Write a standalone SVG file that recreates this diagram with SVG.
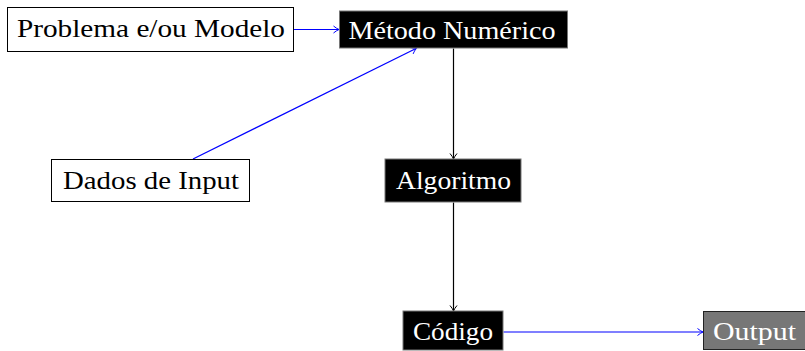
<svg xmlns="http://www.w3.org/2000/svg" width="805" height="351" viewBox="0 0 805 351">
<style>
.t{font-family:"Liberation Serif","DejaVu Serif",serif;font-size:26px;text-anchor:middle}
.wb{fill:#fff;stroke:#000;stroke-width:1}
.bb{fill:#000;stroke:#777;stroke-width:1}
.gb{fill:#777;stroke:#222;stroke-width:1}
.dk{fill:#000}
.lt{fill:#fff}
.c{fill:none;stroke-width:1.2}
.blue{stroke:#0000ff}
.black{stroke:#000}
</style>
<defs>
<marker id="ab" markerWidth="10" markerHeight="10" refX="7" refY="5" orient="auto" markerUnits="userSpaceOnUse">
<path d="M2,1.5 Q5,4 7.5,5 Q5,6 2,8.5" fill="none" stroke="#0000ff" stroke-width="1"/>
</marker>
<marker id="ak" markerWidth="10" markerHeight="10" refX="7" refY="5" orient="auto" markerUnits="userSpaceOnUse">
<path d="M2,1.5 Q5,4 7.5,5 Q5,6 2,8.5" fill="none" stroke="#000" stroke-width="1"/>
</marker>
</defs>
<g id="connectors">
<line class="c blue" x1="293.5" y1="29.5" x2="338.5" y2="29.5" marker-end="url(#ab)"/>
<line class="c blue" x1="193" y1="159" x2="416" y2="48.5" marker-end="url(#ab)"/>
<line class="c black" x1="453.5" y1="48.5" x2="453.5" y2="158.5" marker-end="url(#ak)"/>
<line class="c black" x1="453.5" y1="202.5" x2="453.5" y2="310.5" marker-end="url(#ak)"/>
<line class="c blue" x1="503.5" y1="332" x2="702.5" y2="332" marker-end="url(#ab)"/>
</g>
<g id="problema">
<rect class="wb" x="7.5" y="7.5" width="286" height="44"/>
<text class="t dk" x="151" y="37" textLength="268" lengthAdjust="spacingAndGlyphs">Problema e/ou Modelo</text>
</g>
<g id="metodo">
<rect class="bb" x="339.5" y="11" width="228" height="37"/>
<text class="t lt" x="452" y="39" textLength="207" lengthAdjust="spacingAndGlyphs">Método Numérico</text>
</g>
<g id="dados">
<rect class="wb" x="51.5" y="159.5" width="198" height="42"/>
<text class="t dk" x="151" y="189" textLength="176" lengthAdjust="spacingAndGlyphs">Dados de Input</text>
</g>
<g id="algoritmo">
<rect class="bb" x="385" y="159" width="136" height="43"/>
<text class="t lt" x="453.5" y="189" textLength="115" lengthAdjust="spacingAndGlyphs">Algoritmo</text>
</g>
<g id="codigo">
<rect class="bb" x="403" y="311" width="100" height="39"/>
<text class="t lt" x="453" y="340" textLength="80" lengthAdjust="spacingAndGlyphs">Código</text>
</g>
<g id="output">
<rect class="gb" x="703.5" y="311.5" width="102" height="38"/>
<text class="t lt" x="754.5" y="340" textLength="83" lengthAdjust="spacingAndGlyphs">Output</text>
</g>
</svg>
